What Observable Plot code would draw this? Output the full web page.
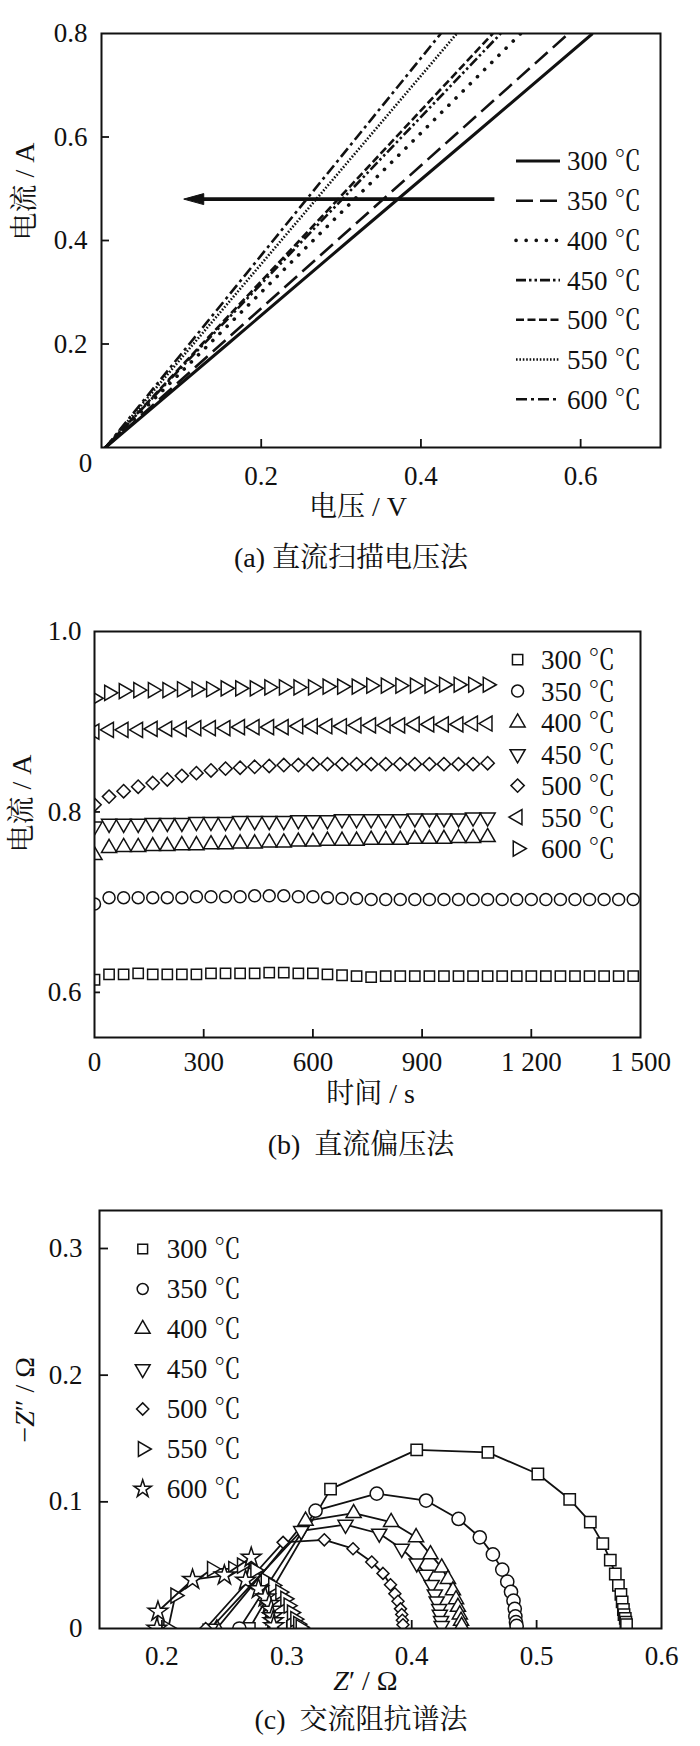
<!DOCTYPE html>
<html><head><meta charset="utf-8">
<script src="https://cdn.jsdelivr.net/npm/d3@7"></script>
<script src="https://cdn.jsdelivr.net/npm/@observablehq/plot@0.6"></script>
<style>
body{margin:0;background:#fff;}
#root{position:relative;width:700px;height:1746px;color:#111;overflow:hidden;}
#root, #root div, #root svg, #root text, #root tspan{font-family:"Liberation Serif","Noto Serif CJK SC","Noto Sans CJK SC",serif !important;}
.cap{position:absolute;font-size:28px;white-space:pre;transform:translate(-50%,-50%);line-height:1;}
</style></head><body><div id="root"></div>
<script>
// ---------- shared ----------
const tempLabels = ["300 ℃","350 ℃","400 ℃","450 ℃","500 ℃","550 ℃","600 ℃"];

// ---------- (a) 直流扫描电压法 ----------
const aCurrent = [0, 0.2, 0.4, 0.6, 0.8];
const aVolt300 = [0.005, 0.158, 0.310, 0.463, 0.615];
const aVolt350 = [0.005, 0.150, 0.295, 0.440, 0.585];
const aVolt400 = [0.005, 0.135, 0.265, 0.395, 0.525];
const aVolt450 = [0.005, 0.128, 0.252, 0.376, 0.500];
const aVolt500 = [0.005, 0.126, 0.248, 0.369, 0.490];
const aVolt550 = [0.005, 0.115, 0.225, 0.335, 0.445];
const aVolt600 = [0.005, 0.110, 0.215, 0.320, 0.425];
const aXTicks = [0.2, 0.4, 0.6];
const aYTicks = [0.2, 0.4, 0.6, 0.8];
const aArrowFrom = [0.492, 0.48];
const aArrowTo = [0.113, 0.48];

// ---------- (b) 直流偏压法 ----------
const bTimeLong = [0,40,80,120,160,200,240,280,320,360,400,440,480,520,560,600,640,680,720,760,800,840,880,920,960,1000,1040,1080,1120,1160,1200,1240,1280,1320,1360,1400,1440,1480];
const bTimeShort = [0,40,80,120,160,200,240,280,320,360,400,440,480,520,560,600,640,680,720,760,800,840,880,920,960,1000,1040,1080];
const bCur300 = [0.614,0.620,0.620,0.621,0.620,0.620,0.620,0.620,0.621,0.621, 0.621,0.621,0.622,0.622,0.621,0.621,0.620,0.619,0.618,0.617, 0.618,0.618,0.618,0.618,0.618,0.618,0.618,0.618,0.618,0.618, 0.618,0.618,0.618,0.618,0.618,0.618,0.618,0.618];
const bCur350 = [0.698,0.705,0.705,0.705,0.705,0.705,0.705,0.706,0.706,0.706, 0.706,0.707,0.707,0.707,0.706,0.706,0.705,0.704,0.704,0.703, 0.703,0.703,0.703,0.703,0.703,0.703,0.703,0.703,0.703,0.703, 0.703,0.703,0.703,0.703,0.703,0.703,0.703,0.703];
const bCur400 = [0.752,0.760,0.761,0.761,0.762,0.762,0.763,0.763,0.764,0.764,0.765,0.765,0.766,0.766,0.767,0.767,0.768,0.768,0.768,0.769,0.769,0.769,0.770,0.770,0.770,0.771,0.771,0.772];
const bCur450 = [0.784,0.787,0.787,0.787,0.788,0.788,0.788,0.789,0.789,0.789,0.790,0.790,0.790,0.790,0.791,0.791,0.791,0.792,0.792,0.792,0.792,0.792,0.793,0.793,0.793,0.793,0.794,0.794];
const bCur500 = [0.808,0.817,0.823,0.828,0.832,0.836,0.840,0.843,0.846,0.848,0.849,0.850,0.851,0.852,0.852,0.853,0.853,0.853,0.853,0.853,0.853,0.853,0.853,0.853,0.853,0.853,0.853,0.854];
const bCur550 = [0.889,0.891,0.891,0.891,0.892,0.892,0.892,0.893,0.893,0.893,0.894,0.894,0.894,0.894,0.895,0.895,0.895,0.895,0.896,0.896,0.896,0.896,0.897,0.897,0.897,0.897,0.898,0.898];
const bCur600 = [0.926,0.932,0.934,0.935,0.935,0.935,0.936,0.936,0.936,0.937,0.937,0.937,0.938,0.938,0.938,0.938,0.939,0.939,0.939,0.940,0.940,0.940,0.940,0.940,0.941,0.941,0.941,0.941];
const bXTicks = [0, 300, 600, 900, 1200, 1500];
const bXLabels = ["0","300","600","900","1 200","1 500"];
const bYTicks = [0.6, 0.8, 1.0];
const bYLabels = ["0.6","0.8","1.0"];

// ---------- (c) 交流阻抗谱法 ----------
const cRe300 = [0.270,0.335,0.404,0.461,0.501,0.5265,0.543,0.553,0.559,0.563,0.5655,0.5675,0.5685,0.5695,0.570,0.571,0.5715,0.572];
const cIm300 = [0,0.110,0.141,0.139,0.122,0.102,0.084,0.067,0.054,0.043,0.034,0.027,0.021,0.015,0.011,0.008,0.005,0.003];
const cRe350 = [0.262,0.323,0.372,0.4115,0.4375,0.4545,0.465,0.4725,0.4765,0.4795,0.4815,0.4825,0.483,0.4835,0.484];
const cIm350 = [0,0.093,0.1065,0.101,0.0865,0.072,0.0585,0.0465,0.037,0.029,0.022,0.0155,0.0095,0.005,0.002];
const cRe400 = [0.244,0.315,0.3535,0.3835,0.4035,0.415,0.424,0.429,0.433,0.4355,0.437,0.4385,0.4395,0.440];
const cIm400 = [0,0.085,0.091,0.084,0.072,0.0585,0.048,0.039,0.030,0.023,0.017,0.011,0.006,0.002];
const cRe450 = [0.239,0.3115,0.347,0.374,0.392,0.404,0.4115,0.416,0.4185,0.420,0.422,0.4225,0.4235,0.424];
const cIm450 = [0,0.077,0.082,0.075,0.063,0.0515,0.0425,0.0345,0.027,0.0215,0.0155,0.011,0.006,0.002];
const cRe500 = [0.235,0.297,0.330,0.353,0.368,0.377,0.383,0.3865,0.389,0.391,0.392,0.3925,0.393];
const cIm500 = [0,0.068,0.070,0.063,0.0525,0.0435,0.0345,0.0275,0.0215,0.0155,0.011,0.0065,0.003];
const cRe550 = [0.205,0.2107,0.240,0.257,0.264,0.2747,0.283,0.289,0.2947,0.2987,0.3013,0.304,0.3067,0.309,0.311];
const cIm550 = [0,0.026,0.047,0.047,0.0497,0.046,0.038,0.034,0.0287,0.0234,0.018,0.0126,0.0074,0.0034,0.001];
const cRe600 = [0.196,0.1968,0.2245,0.250,0.2715,0.267,0.2773,0.2827,0.2859,0.2875,0.2885,0.289,0.2895];
const cIm600 = [0,0.0134,0.0386,0.042,0.056,0.038,0.0313,0.0247,0.0195,0.015,0.010,0.006,0.002];
const cXTicks = [0.2, 0.3, 0.4, 0.5, 0.6];
const cYTicks = [0, 0.1, 0.2, 0.3];

// ---------- styles ----------
const FONT = '"Liberation Serif", "Noto Serif CJK SC", "Noto Sans CJK SC", serif';
const INK = "#111";
const root = document.getElementById("root");
const symbolNames = ["square","circle","triangle","triangle","diamond2","triangle","star"];
const symbolTypes = [d3.symbolSquare,d3.symbolCircle,d3.symbolTriangle,d3.symbolTriangle,d3.symbolDiamond2,d3.symbolTriangle,d3.symbolStar];
const bSymbolNames = ["square","circle","triangle","triangle","diamond2","triangle","triangle"];
const bSymbolTypes = [d3.symbolSquare,d3.symbolCircle,d3.symbolTriangle,d3.symbolTriangle,d3.symbolDiamond2,d3.symbolTriangle,d3.symbolTriangle];
const bSymbolRotate = [0,0,0,180,0,-90,90];
const cSymbolRotate = [0,0,0,180,0,90,0];
const bR = [5.8,6,5.6,5.6,6,5.6,5.6];
const cR = [6.4,6.6,5.6,5.6,5.4,5.6,6.2];

function mount(node, top){ node.style.position="absolute"; node.style.left="0px"; node.style.top=top+"px"; root.appendChild(node); }
function caption(text, cx, cy){ const d=document.createElement("div"); d.className="cap"; d.textContent=text; d.style.left=cx+"px"; d.style.top=cy+"px"; root.appendChild(d); }
const arrowHead = { draw(ctx){ ctx.moveTo(-8,0); ctx.lineTo(12,-5.5); ctx.lineTo(12,5.5); ctx.closePath(); } };
function legendText(g, x, y, t){
  g.append("text").attr("x",x).attr("y",y).attr("dy","0.35em").attr("font-size",27)
    .attr("text-anchor","start").attr("font-family",FONT).attr("fill",INK).text(t);
}

// ========== Panel (a) ==========
{
  const series = [aVolt300,aVolt350,aVolt400,aVolt450,aVolt500,aVolt550,aVolt600];
  const dash = [null,"17,7","0.1,10","10,3,2.5,3,2.5,3","8,3.5","1.6,1.8","11,4,3,4"];
  const widths = [3,2.6,3.6,2.6,2.6,2.6,2.6];
  const caps = ["butt","butt","round","butt","butt","butt","butt"];
  const mt=33, mb=83, ml=101, mr=40, H=530;
  const fh = H-mt-mb, fw = 700-ml-mr;
  const svg = Plot.plot({
    width:700, height:H, marginTop:mt, marginBottom:mb, marginLeft:ml, marginRight:mr,
    style:{fontFamily:FONT, fontSize:"27px", color:INK, background:"#fff"},
    x:{domain:[0,0.7]}, y:{domain:[0,0.8]},
    marks:[
      ...series.map((vs,i)=>Plot.line(aCurrent.map((c,j)=>({v:vs[j], c})), {x:"v", y:"c", stroke:INK, strokeWidth:widths[i], strokeDasharray:dash[i], strokeLinecap:caps[i], clip:true})),
      Plot.link([{x1:aArrowFrom[0], y1:aArrowFrom[1], x2:aArrowTo[0], y2:aArrowTo[1]}], {x1:"x1", y1:"y1", x2:"x2", y2:"y2", stroke:INK, strokeWidth:3.6}),
      Plot.dot([{x:aArrowTo[0], y:aArrowTo[1]}], {x:"x", y:"y", symbol:arrowHead, fill:INK, stroke:INK, strokeWidth:1}),
      Plot.ruleX(aXTicks, {stroke:INK, strokeWidth:1.8, insetTop:fh-8}),
      Plot.ruleY(aYTicks.slice(0,3), {stroke:INK, strokeWidth:1.8, insetRight:fw-8}),
      Plot.axisX(aXTicks, {tickSize:0, tickPadding:18, label:null, tickFormat:d=>d3.format(".1f")(d)}),
      Plot.axisY(aYTicks, {tickSize:0, tickPadding:14, label:null, tickFormat:d=>d3.format(".1f")(d)}),
      Plot.text([0], {x:0, y:0, text:d=>String(d), dx:-16, dy:16}),
      Plot.text(["电压 / V"], {frameAnchor:"bottom", dx:-23, dy:68, fontSize:28}),
      Plot.text(["电流 / A"], {frameAnchor:"left", rotate:-90, dx:-76, fontSize:28}),
      Plot.frame({stroke:INK, strokeWidth:2})
    ]
  });
  const g = d3.select(svg).append("g");
  tempLabels.forEach((t,i)=>{
    const y = 161 + 39.7*i;
    g.append("line").attr("x1",516).attr("x2",560).attr("y1",y).attr("y2",y)
      .attr("stroke",INK).attr("stroke-width",widths[i]).attr("stroke-dasharray",dash[i]).attr("stroke-linecap",caps[i]);
    legendText(g, 567, y, t);
  });
  mount(svg, 0);
  caption("(a) 直流扫描电压法", 351, 558);
}

// ========== Panel (b) ==========
{
  const series = [[bTimeLong,bCur300],[bTimeLong,bCur350],[bTimeShort,bCur400],[bTimeShort,bCur450],[bTimeShort,bCur500],[bTimeShort,bCur550],[bTimeShort,bCur600]];
  const mt=51, mb=83, ml=94, mr=60, H=540;
  const fh = H-mt-mb, fw = 700-ml-mr;
  const svg = Plot.plot({
    width:700, height:H, marginTop:mt, marginBottom:mb, marginLeft:ml, marginRight:mr,
    style:{fontFamily:FONT, fontSize:"27px", color:INK, background:"#fff"},
    x:{domain:[0,1500]}, y:{domain:[0.55,1.0]},
    marks:[
      ...series.map(([ts,vs],i)=>Plot.dot(ts.map((t,j)=>({t, c:vs[j]})), {x:"t", y:"c", symbol:bSymbolNames[i], rotate:bSymbolRotate[i], r:bR[i], stroke:INK, strokeWidth:1.5, fill:"none", clip:true})),
      Plot.ruleX(bXTicks.slice(1,5), {stroke:INK, strokeWidth:1.8, insetTop:fh-8}),
      Plot.ruleY(bYTicks.slice(0,2), {stroke:INK, strokeWidth:1.8, insetRight:fw-6}),
      Plot.axisX(bXTicks, {tickSize:0, tickPadding:14, label:null, tickFormat:d=>bXLabels[bXTicks.indexOf(d)]}),
      Plot.axisY(bYTicks, {tickSize:0, tickPadding:13, label:null, tickFormat:d=>bYLabels[bYTicks.indexOf(d)]}),
      Plot.text(["时间 / s"], {frameAnchor:"bottom", dx:3, dy:65, fontSize:28}),
      Plot.text(["电流 / A"], {frameAnchor:"left", rotate:-90, dx:-72, dy:18, fontSize:28}),
      Plot.frame({stroke:INK, strokeWidth:2})
    ]
  });
  const g = d3.select(svg).append("g");
  tempLabels.forEach((t,i)=>{
    const y = 79.6 + 31.5*i;
    g.append("path").attr("d", d3.symbol(bSymbolTypes[i], bR[i]*bR[i]*Math.PI)())
      .attr("transform",`translate(517.6,${y}) rotate(${bSymbolRotate[i]})`)
      .attr("fill","none").attr("stroke",INK).attr("stroke-width",1.5);
    legendText(g, 541, y, t);
  });
  mount(svg, 580);
  caption("(b)  直流偏压法", 361, 1145);
}

// ========== Panel (c) ==========
{
  const series = [[cRe300,cIm300],[cRe350,cIm350],[cRe400,cIm400],[cRe450,cIm450],[cRe500,cIm500],[cRe550,cIm550],[cRe600,cIm600]];
  const mt=50, mb=78, ml=99, mr=39, H=546;
  const fh = H-mt-mb, fw = 700-ml-mr;
  const marks = [];
  series.forEach(([xs,ys],i)=>{
    const rows = xs.map((x,j)=>({x, y:ys[j]}));
    marks.push(Plot.line(rows, {x:"x", y:"y", stroke:INK, strokeWidth:1.8, clip:true}));
    marks.push(Plot.dot(rows, {x:"x", y:"y", symbol:symbolNames[i], rotate:cSymbolRotate[i], r:cR[i], stroke:INK, strokeWidth:1.5, fill:"#fff", clip:true}));
  });
  const svg = Plot.plot({
    width:700, height:H, marginTop:mt, marginBottom:mb, marginLeft:ml, marginRight:mr,
    style:{fontFamily:FONT, fontSize:"27px", color:INK, background:"#fff"},
    x:{domain:[0.15,0.6]}, y:{domain:[0,0.33]},
    marks:[
      ...marks,
      Plot.ruleX(cXTicks.slice(0,4), {stroke:INK, strokeWidth:1.8, insetTop:fh-8}),
      Plot.ruleY(cYTicks.slice(1), {stroke:INK, strokeWidth:1.8, insetRight:fw-9}),
      Plot.axisX(cXTicks, {tickSize:0, tickPadding:17, label:null, tickFormat:d=>d3.format(".1f")(d)}),
      Plot.axisY(cYTicks, {tickSize:0, tickPadding:17, label:null, tickFormat:d=>d===0?"0":d3.format(".1f")(d)}),
      Plot.text(["Z′ / Ω"], {frameAnchor:"bottom", dx:-15, dy:61, fontSize:28}),
      Plot.text(["−Z″ / Ω"], {frameAnchor:"left", rotate:-90, dx:-74, dy:23, fontSize:28}),
      Plot.frame({stroke:INK, strokeWidth:2})
    ]
  });
  d3.select(svg).selectAll("text").each(function(){
    const s = this.textContent;
    if (s === "Z′ / Ω") this.innerHTML = '<tspan font-style="italic">Z</tspan>′ / Ω';
    if (s === "−Z″ / Ω") this.innerHTML = '−<tspan font-style="italic">Z</tspan>″ / Ω';
  });
  const g = d3.select(svg).append("g");
  tempLabels.forEach((t,i)=>{
    const y = 89 + 40*i;
    g.append("path").attr("d", d3.symbol(symbolTypes[i], 5.5*5.5*Math.PI)())
      .attr("transform",`translate(142.7,${y}) rotate(${cSymbolRotate[i]})`)
      .attr("fill","#fff").attr("stroke",INK).attr("stroke-width",1.5);
    legendText(g, 166.7, y, t);
  });
  mount(svg, 1160);
  caption("(c)  交流阻抗谱法", 361, 1720);
}
</script></body></html>
